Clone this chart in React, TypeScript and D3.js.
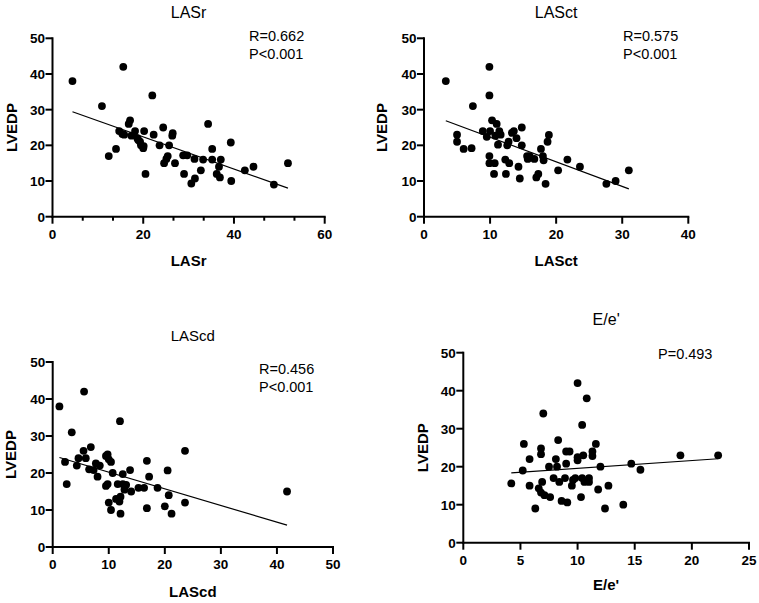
import React from "react";
import * as d3 from "d3";

// ---------- DATA ----------
const lasrX = [4.4, 15.6, 22, 10.9, 17.1, 16.8, 14.7, 15.4, 17.4, 18.2, 20.2, 18.7, 19.3, 20.1, 20, 14, 12.4, 20.5, 22.3, 24.4, 26.5, 26.4, 23.6, 25.7, 25.4, 25.1, 24.6, 27, 28.8, 29.7, 31.3, 29, 31.4, 30.6, 32.7, 33.2, 34.3, 35.2, 35.2, 37.1, 36.7, 36.2, 36.9, 39.3, 39.4, 42.4, 44.3, 48.8, 51.9, 18.9, 15.8, 19.5];
const lasrY = [38, 42, 34, 31, 27, 26, 24, 23.2, 22.7, 24, 24, 22, 21, 19.8, 19.2, 19, 17, 12, 23, 25, 23.4, 22.7, 20, 20, 17, 16.2, 15, 15, 17.2, 17.2, 16.2, 12, 10.7, 9.3, 13, 16, 26, 19, 16, 16, 14, 12, 11, 20.8, 10, 13, 14, 9, 15, 21.5, 23, 20];
const lasrFit = [31.38, -0.4505];

const lasctX = [3.3, 9.9, 9.9, 7.4, 5.0, 5.0, 6.0, 7.2, 8.9, 9.5, 10.0, 10.3, 11.0, 10.8, 11.6, 11.2, 12.8, 13.6, 14.0, 14.8, 14.8, 9.9, 9.9, 10.7, 10.6, 12.4, 12.3, 12.9, 14.3, 14.5, 15.6, 15.7, 16.7, 17.0, 17.3, 17.7, 18.0, 18.1, 18.4, 18.7, 18.9, 20.3, 21.7, 23.6, 27.6, 29.0, 31.0, 16.0, 13.3, 12.6, 11.4];
const lasctY = [38, 42, 34, 31, 23, 21, 19, 19.2, 24, 22.4, 24, 27, 26, 22.7, 23, 20.2, 21, 24, 22, 25, 20, 17, 15, 15, 12, 12, 16, 15, 14, 10.7, 17, 16.2, 16.2, 11, 12, 19, 17, 15.8, 9.2, 21, 22.9, 13, 16, 14, 9.2, 10, 13, 17, 23.5, 20, 24];
const lasctFit = [29.18, -0.69];

const lascdX = [1.2, 5.6, 12.0, 3.4, 2.2, 2.5, 4.3, 4.6, 5.5, 6.8, 5.9, 6.5, 7.3, 7.7, 8.0, 8.4, 9.5, 10.0, 10.4, 10.7, 9.5, 9.8, 10.0, 10.4, 11.6, 12.1, 11.9, 11.3, 12.1, 12.5, 13.1, 13.8, 14.0, 15.3, 16.3, 16.8, 17.2, 16.8, 18.7, 20.5, 20.7, 20.0, 21.2, 23.6, 23.6, 41.8, 12.5, 9.8, 12.8];
const lascdY = [38, 42, 34, 31, 23, 17, 22, 24, 26, 27, 24, 21, 20.8, 22.6, 19, 22, 24.6, 23.7, 23, 20, 16.5, 17, 12, 10, 17, 13.6, 12.3, 13, 9, 19.7, 16.8, 20.8, 15, 16, 16, 23.3, 19, 10.5, 16, 20.7, 14, 11, 9, 26, 12, 15, 17, 25, 15.5];
const lascdFit = [24.74, -0.4507];

const eeX = [4.2, 5.2, 5.3, 5.8, 5.8, 6.3, 6.6, 6.8, 6.9, 6.8, 6.8, 7.0, 7.1, 7.6, 7.5, 8.1, 8.2, 7.9, 8.3, 8.4, 8.6, 9.1, 8.9, 9.0, 9.0, 9.3, 9.5, 9.6, 9.8, 10.0, 10.0, 10.0, 10.4, 10.8, 10.3, 10.5, 10.4, 10.6, 11.0, 11.0, 11.3, 11.3, 11.6, 12.0, 11.8, 12.4, 12.7, 14.0, 14.7, 15.5, 19.0, 22.3];
const eeY = [15.6, 19, 26, 22, 15, 9, 14.3, 13.2, 16, 24.8, 23.3, 34, 12.5, 12, 20, 22, 20, 17, 27, 16, 11, 10.6, 17, 20.8, 24, 24, 15, 16.5, 17, 21.7, 22.5, 42, 31, 38, 12, 23, 17, 16, 17, 16, 24, 22.8, 26, 20, 14, 9, 15, 10, 20.8, 19.2, 23, 23];
const eeFit = [17.54, 0.2044];

const yTicks = [0, 10, 20, 30, 40, 50];
const lasrTicks = [0, 20, 40, 60];
const lasrMinorTicks = [6.667, 13.333, 26.667, 33.333, 46.667, 53.333];
const lasctTicks = [0, 10, 20, 30, 40];
const lascdTicks = [0, 10, 20, 30, 40, 50];
const eeTicks = [0, 5, 10, 15, 20, 25];

const FONT = "'Liberation Sans', Arial, Helvetica, sans-serif";

type PanelProps = {
  xs: number[];
  ys: number[];
  fit: number[];
  xDomain: [number, number];
  xTicks: number[];
  minorTicks?: number[];
  left: number;
  right: number;
  top: number;
  bottom: number;
  title: string;
  titleY: number;
  titleSize?: number;
  xLabel: string;
  xLabelY: number;
  yLabelX: number;
  notes: string[];
  noteX: number;
  noteY: number;
};

function Panel(p: PanelProps) {
  const x = d3.scaleLinear().domain(p.xDomain).range([p.left, p.right]);
  const y = d3.scaleLinear().domain([0, 50]).range([p.bottom, p.top]);
  const pts = p.xs.map((v, i) => [v, p.ys[i]] as [number, number]);
  const xMin = d3.min(p.xs) as number;
  const xMax = d3.max(p.xs) as number;
  const lineGen = d3.line<number>().x((d) => x(d)).y((d) => y(p.fit[0] + p.fit[1] * d));
  const cx = (p.left + p.right) / 2;
  const cy = (p.top + p.bottom) / 2;
  return (
    <g fontFamily={FONT}>
      <text x={cx} y={p.titleY} textAnchor="middle" fontSize={p.titleSize ?? 16}>{p.title}</text>
      {/* y axis */}
      <line x1={p.left} x2={p.left} y1={p.top - 1} y2={p.bottom + 1} stroke="#000" strokeWidth={2} />
      {yTicks.map((t) => (
        <g key={"y" + t}>
          <line x1={p.left - 7} x2={p.left} y1={y(t)} y2={y(t)} stroke="#000" strokeWidth={2} />
          <text x={p.left - 7.5} y={y(t)} dy="0.36em" textAnchor="end" fontSize={13.5} fontWeight="bold">{t}</text>
        </g>
      ))}
      {/* x axis */}
      <line x1={p.left - 1} x2={p.right + 1} y1={p.bottom} y2={p.bottom} stroke="#000" strokeWidth={2} />
      {p.xTicks.map((t) => (
        <g key={"x" + t}>
          <line x1={x(t)} x2={x(t)} y1={p.bottom} y2={p.bottom + 7} stroke="#000" strokeWidth={2} />
          <text x={x(t)} y={p.bottom + 22} textAnchor="middle" fontSize={13.5} fontWeight="bold">{t}</text>
        </g>
      ))}
      {(p.minorTicks || []).map((t) => (
        <line key={"m" + t} x1={x(t)} x2={x(t)} y1={p.bottom} y2={p.bottom + 4} stroke="#000" strokeWidth={2} />
      ))}
      <text x={cx} y={p.xLabelY} textAnchor="middle" fontSize={15} fontWeight="bold">{p.xLabel}</text>
      <text transform={`translate(${p.yLabelX},${cy}) rotate(-90)`} textAnchor="middle" fontSize={15} fontWeight="bold">LVEDP</text>
      {/* fit line */}
      <path d={lineGen([xMin, xMax]) || ""} stroke="#000" strokeWidth={1.2} fill="none" />
      {pts.map((d, i) => (
        <circle key={i} cx={x(d[0])} cy={y(d[1])} r={3.9} fill="#000" />
      ))}
      {p.notes.map((n, i) => (
        <text key={n} x={p.noteX} y={p.noteY + i * 18} fontSize={14.5}>{n}</text>
      ))}
    </g>
  );
}

export default function App() {
  return (
    <svg width={759} height={603} style={{ position: "absolute", left: 0, top: 0, background: "#fff" }}>
      <rect width={759} height={603} fill="#fff" />
      <Panel xs={lasrX} ys={lasrY} fit={lasrFit} xDomain={[0, 60]} xTicks={lasrTicks} minorTicks={lasrMinorTicks}
        left={52.5} right={324.7} top={38.3} bottom={216.7} title="LASr" titleY={18} xLabel="LASr" xLabelY={266}
        yLabelX={17} notes={["R=0.662", "P<0.001"]} noteX={249} noteY={41} />
      <Panel xs={lasctX} ys={lasctY} fit={lasctFit} xDomain={[0, 40]} xTicks={lasctTicks}
        left={424} right={688.3} top={38.3} bottom={216.7} title="LASct" titleY={18} xLabel="LASct" xLabelY={266}
        yLabelX={387} notes={["R=0.575", "P<0.001"]} noteX={623} noteY={41} />
      <Panel xs={lascdX} ys={lascdY} fit={lascdFit} xDomain={[0, 50]} xTicks={lascdTicks}
        left={52.7} right={333} top={362} bottom={547} title="LAScd" titleY={341} titleSize={15} xLabel="LAScd" xLabelY={597}
        yLabelX={16} notes={["R=0.456", "P<0.001"]} noteX={259} noteY={374} />
      <Panel xs={eeX} ys={eeY} fit={eeFit} xDomain={[0, 25]} xTicks={eeTicks}
        left={463.3} right={749} top={352.7} bottom={542.7} title="E/e'" titleY={325} xLabel="E/e'" xLabelY={590}
        yLabelX={428} notes={["P=0.493"]} noteX={658} noteY={359} />
    </svg>
  );
}
